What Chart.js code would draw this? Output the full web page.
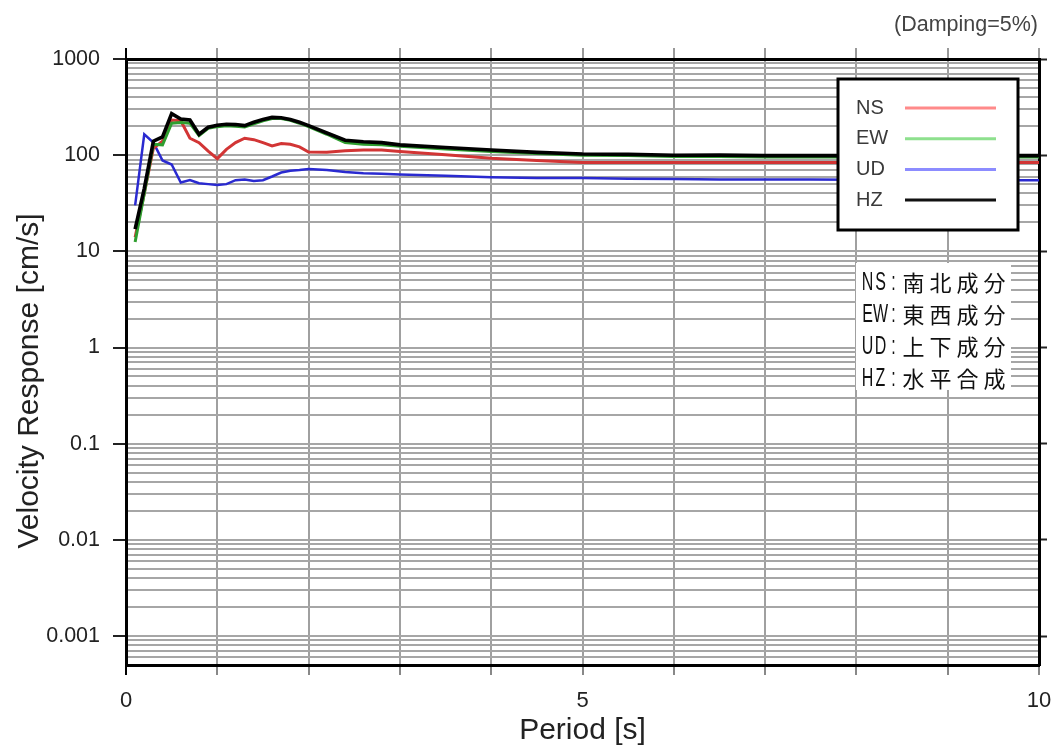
<!DOCTYPE html>
<html><head><meta charset="utf-8">
<script src="https://cdn.jsdelivr.net/npm/chart.js@4.4.1/dist/chart.umd.min.js"></script>
<style>
html,body{margin:0;padding:0;background:#fff;}
#wrap{position:relative;width:1054px;height:749px;}
</style></head>
<body><div id="wrap"><canvas id="c" width="1054" height="749"></canvas></div>
<script>
const periods  = [0.1,0.2,0.3,0.4,0.5,0.6,0.7,0.8,0.9,1.0,1.1,1.2,1.3,1.4,1.5,1.6,1.7,1.8,1.9,2.0,2.2,2.4,2.6,2.8,3.0,3.5,4.0,4.5,5.0,5.5,6.0,6.5,7.0,7.5,8.0,8.5,9.0,9.5,10.0];
const nsValues = [14,40,118,140,232,228,150,135,110,92,115,135,150,145,135,125,132,130,122,108,107,111,113,113,109,101,93,88,84,84,84,84,84,84,84,84,84,84,84];
const ewValues = [12.5,40,130,128,215,218,215,160,190,198,202,200,196,212,228,240,240,230,215,198,165,135,130,128,124,116,109,104,100,99,97,97,96,96,96,96,96,96,96];
const udValues = [30,165,135,88,80,52,55,51,50,49,50,55,56,54,55,60,66,69,70,72,70,67,65,64,63,61,59,58,58,57,56.5,56,56,56,55.5,55.5,55,55,55];
const hzValues = [17,45,140,155,270,238,232,165,195,205,210,208,203,220,235,247,245,235,220,203,170,143,138,135,128,120,113,107,103,102,100,100,99,99,99,99,99,99,99];
const seriesLabels = ['NS','EW','UD','HZ'];
const seriesColors = ['#d23535','#2f9e2f','#2a2ad0','#000000'];
const legendColors = ['#ff8a8a','#8ee08e','#8c8cff','#111111'];
const componentNotes = ['NS:南北成分','EW:東西成分','UD:上下成分','HZ:水平合成'];
const xTickLabels = ['0','5','10'];
const yTickLabels = ['0.001','0.01','0.1','1','10','100','1000'];
const xTitle = 'Period [s]';
const yTitle = 'Velocity Response [cm/s]';
const dampingNote = '(Damping=5%)';
const yMin = 0.0005, yMax = 1000;

function isDecade(v){ return yTickLabels.some(l => Math.abs(parseFloat(l) - v) < 1e-12); }
function buildLogTicks(scale){
  const ticks = [];
  for (let d = -4; d <= 2; d++) {
    for (let k = 1; k <= 9; k++) {
      const v = parseFloat((k * Math.pow(10, d)).toPrecision(3));
      if (v >= yMin - 1e-12 && v <= yMax) ticks.push({value: v});
    }
  }
  ticks.push({value: yMax});
  scale.ticks = ticks;
}
function yLabel(value){
  const s = yTickLabels.find(l => Math.abs(parseFloat(l) - value) < 1e-12);
  return s !== undefined ? s : '';
}
function xLabel(value){
  const s = xTickLabels.find(l => parseFloat(l) === value);
  return s !== undefined ? s : '';
}
function noPad(s){ s.paddingLeft = 0; s.paddingRight = 0; s.paddingTop = 0; s.paddingBottom = 0; }

const overlay = {
  id: 'overlay',
  afterDraw(chart){
    const ctx = chart.ctx;
    ctx.save();
    // y axis title
    ctx.save();
    ctx.translate(30, 381);
    ctx.rotate(-Math.PI / 2);
    ctx.font = '30px "Liberation Sans", Arial, sans-serif';
    ctx.fillStyle = '#222';
    ctx.textAlign = 'center';
    ctx.textBaseline = 'middle';
    ctx.fillText(yTitle, 0, 0);
    ctx.restore();

    // damping note
    ctx.font = '21.5px "Liberation Sans", Arial, sans-serif';
    ctx.fillStyle = '#444';
    ctx.textAlign = 'right';
    ctx.textBaseline = 'middle';
    ctx.fillText(dampingNote, 1038, 25);

    // legend box
    ctx.fillStyle = '#fff';
    ctx.fillRect(838, 79, 180, 151);
    ctx.strokeStyle = '#000';
    ctx.lineWidth = 3;
    ctx.strokeRect(838, 79, 180, 151);
    chart.data.datasets.forEach((ds, i) => {
      const y = 108 + i * 30.7;
      ctx.font = '20px "Liberation Sans", Arial, sans-serif';
      ctx.fillStyle = '#3a3a3a';
      ctx.textAlign = 'left';
      ctx.textBaseline = 'middle';
      ctx.fillText(ds.label, 856, y);
      ctx.strokeStyle = legendColors[i];
      ctx.lineWidth = 3;
      ctx.beginPath();
      ctx.moveTo(905, y); ctx.lineTo(996, y);
      ctx.stroke();
    });

    // component notes box
    ctx.fillStyle = '#fff';
    ctx.fillRect(856, 263, 155, 127);
    componentNotes.forEach((txt, r) => {
      const y = 282 + r * 32;
      let x = 861;
      for (const ch of txt) {
        const full = ch.charCodeAt(0) > 0x2000;
        const w = full ? 27 : 13;
        if (full && x < 900) x = 900;
        ctx.fillStyle = '#111';
        ctx.textAlign = 'center';
        ctx.textBaseline = 'middle';
        if (full) {
          ctx.font = '22px "Noto Sans CJK JP", sans-serif';
          ctx.fillText(ch, x + w / 2, y + 1);
        } else {
          ctx.save();
          ctx.translate(x + w / 2, y);
          ctx.scale(0.64, 1);
          ctx.font = '25px "Liberation Sans", Arial, sans-serif';
          ctx.fillText(ch, 0, 1);
          ctx.restore();
        }
        x += w;
      }
    });
    ctx.restore();
  }
};

const mk = (i, vals, order, width) => ({
  label: seriesLabels[i],
  data: periods.map((p, j) => ({x: p, y: vals[j]})),
  borderColor: seriesColors[i],
  backgroundColor: seriesColors[i],
  borderWidth: width,
  pointRadius: 0,
  tension: 0,
  fill: false,
  order: order
});

new Chart(document.getElementById('c'), {
  type: 'line',
  data: {
    datasets: [mk(0, nsValues, 2, 3), mk(1, ewValues, 1, 3), mk(2, udValues, 3, 2.5), mk(3, hzValues, 0, 3.6)]
  },
  plugins: [overlay],
  options: {
    responsive: false,
    animation: false,
    layout: {padding: 0},
    plugins: {legend: {display: false}, tooltip: {enabled: false}},
    scales: {
      x: {
        type: 'linear', position: 'bottom', min: 0, max: 10,
        afterFit(s){ s.height = 84; noPad(s); },
        ticks: {stepSize: 1, autoSkip: false, maxRotation: 0, padding: 13, color: '#222',
                font: {family: '"Liberation Sans", Arial, sans-serif', size: 22},
                callback: (v) => xLabel(v)},
        grid: {color: '#a0a0a0', lineWidth: 2, tickLength: 10,
               tickColor: (c) => (c.tick && (c.tick.value === 0)) ? '#000' : '#888'},
        border: {color: '#000', width: 3},
        title: {display: true, text: xTitle, color: '#222',
                font: {family: '"Liberation Sans", Arial, sans-serif', size: 30},
                padding: {top: 0, bottom: 0}}
      },
      x2: {
        type: 'linear', position: 'top', min: 0, max: 10,
        afterFit(s){ s.height = 59; noPad(s); },
        ticks: {stepSize: 1, display: false, autoSkip: false},
        grid: {drawOnChartArea: false, tickLength: 11, lineWidth: 2,
               tickColor: (c) => (c.tick && c.tick.value === 0) ? '#000' : '#999'},
        border: {color: '#000', width: 3}
      },
      y: {
        type: 'logarithmic', position: 'left', min: yMin, max: yMax,
        afterFit(s){ s.width = 126; noPad(s); },
        afterBuildTicks: buildLogTicks,
        ticks: {autoSkip: false, padding: 13, color: '#222',
                font: {family: '"Liberation Sans", Arial, sans-serif', size: 21.5},
                callback: (v) => yLabel(v)},
        grid: {color: '#a6a6a6', lineWidth: 2, tickLength: 13,
               tickColor: (c) => (c.tick && isDecade(c.tick.value)) ? '#222' : 'rgba(0,0,0,0)',
               tickWidth: 2},
        border: {color: '#000', width: 3},
        title: {display: false}
      },
      y2: {
        type: 'logarithmic', position: 'right', min: yMin, max: yMax,
        afterFit(s){ s.width = 15; noPad(s); },
        afterBuildTicks: buildLogTicks,
        ticks: {display: false, autoSkip: false},
        grid: {drawOnChartArea: false, tickLength: 8, tickWidth: 2,
               tickColor: (c) => (c.tick && isDecade(c.tick.value)) ? '#222' : 'rgba(0,0,0,0)'},
        border: {color: '#000', width: 3}
      }
    }
  }
});
</script>
</body></html>
